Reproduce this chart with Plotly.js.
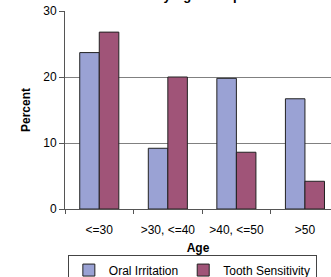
<!DOCTYPE html>
<html><head><meta charset="utf-8">
<script src="https://cdn.plot.ly/plotly-3.0.1.min.js"></script>
<style>html,body{margin:0;padding:0;background:#fff;}#chart{width:331px;height:277px;}</style>
</head><body><div id="chart"></div>
<script>
const categories = ["<=30", ">30, <=40", ">40, <=50", ">50"];
const oralIrritation = [23.7, 9.2, 19.8, 16.7];
const toothSensitivity = [26.8, 20.0, 8.6, 4.2];
const seriesNames = ["Oral Irritation", "Tooth Sensitivity"];
const titleText = "Incidence of Adverse Events<br>by Age Group";

const FONT = "Liberation Sans, Arial, sans-serif";
const traces = [
  {type:"bar", name:seriesNames[0], x:categories, y:oralIrritation,
   marker:{color:"#9AA2D4", line:{color:"#222", width:1}}},
  {type:"bar", name:seriesNames[1], x:categories, y:toothSensitivity,
   marker:{color:"#A05478", line:{color:"#222", width:1}}}
];
const layout = {
  width:331, height:277,
  margin:{l:65, r:0, t:11, b:68},
  paper_bgcolor:"#fff", plot_bgcolor:"#fff",
  font:{family:FONT, size:12, color:"#000"},
  barmode:"group", bargap:0.43, bargroupgap:0,
  showlegend:true,
  legend:{orientation:"h", xref:"container", yref:"container", x:0.205, xanchor:"left", y:0.081, yanchor:"top",
          bordercolor:"#444", borderwidth:1, font:{family:FONT, size:12, color:"#000"},
          itemwidth:30, traceorder:"normal"},
  xaxis:{type:"category", range:[-0.5, 3.38], showgrid:false,
         showline:true, linecolor:"#555", linewidth:1,
         ticks:"outside", tickson:"boundaries", ticklen:4, tickcolor:"#555",
         ticklabelstandoff:10,
         tickfont:{family:FONT, size:12, color:"#000"},
         title:{text:"<b>Age</b>", font:{family:FONT, size:12, color:"#000"}, standoff:20}},
  yaxis:{range:[0,30], dtick:10, showgrid:true, gridcolor:"#808080", gridwidth:1,
         showline:true, linecolor:"#555", linewidth:1, zeroline:false,
         ticks:"outside", ticklen:5, tickcolor:"#555",
         tickfont:{family:FONT, size:12, color:"#000"},
         title:{text:"<b>Percent</b>", font:{family:FONT, size:12, color:"#000"}, standoff:10}},
  annotations:[{text:"<b>"+titleText+"</b>", xref:"paper", yref:"paper", x:0.5, y:1,
    xanchor:"center", yanchor:"bottom", yshift:6, showarrow:false,
    font:{family:FONT, size:13, color:"#000"}}]
};
Plotly.newPlot("chart", traces, layout, {displayModeBar:false, staticPlot:true});
</script></body></html>
